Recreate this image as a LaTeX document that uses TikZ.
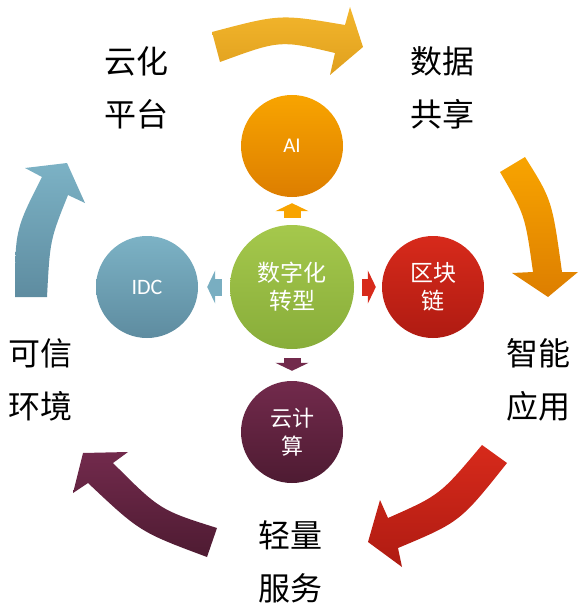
\documentclass[tikz,border=0pt]{standalone}
\usepackage{fontspec}
\setmainfont{Carlito}
\newfontfamily\cjk{Noto Sans CJK SC}
\usetikzlibrary{arrows.meta}

\definecolor{goldhell}{HTML}{F3B62C}
\definecolor{golddunkel}{HTML}{E0A01E}
\definecolor{orhell}{HTML}{F8A400}
\definecolor{ordunkel}{HTML}{DD7E00}
\definecolor{grhell}{HTML}{A5C84C}
\definecolor{grdunkel}{HTML}{88AD3A}
\definecolor{rothell}{HTML}{D72A1B}
\definecolor{rotdunkel}{HTML}{AF1B12}
\definecolor{blauhell}{HTML}{7CB2C5}
\definecolor{blaudunkel}{HTML}{5E8CA0}
\definecolor{weinhell}{HTML}{722A4C}
\definecolor{weindunkel}{HTML}{4E1B32}

\tikzset{
  kreis/.style={circle, draw=none, inner sep=0pt, minimum size=102pt, align=center,
    text=white, font=\cjk\fontsize{22}{28}\selectfont},
  aussen/.style={align=center, font=\cjk\fontsize{32}{53}\selectfont},
  kleinpfeil/.style={line width=17pt, -{Triangle[width=33pt,length=8pt]}}
}

\begin{document}
\begin{tikzpicture}[x=1pt,y=-1pt]
\useasboundingbox (0,0) rectangle (580,604);

%grosse Pfeile
\shade[top color=goldhell, bottom color=golddunkel] (212,32) .. controls (280,14) .. (345,25) -- (350,7) -- (363,47) -- (330,75) -- (335,53) .. controls (280,40) .. (220,62) -- cycle;
\shade[top color=orhell, bottom color=ordunkel] (525,157) .. controls (552,200) .. (562,272) -- (578,272) -- (548,297) -- (512,273) -- (533,272) .. controls (525,215) .. (500,172) -- cycle;
\shade[top color=rothell, bottom color=rotdunkel] (507,463) .. controls (460,522) .. (398,548) -- (402,567) -- (368,542) -- (380,500) -- (388,518) .. controls (440,495) .. (482,445) -- cycle;
\shade[top color=weinhell, bottom color=weindunkel] (207,557) .. controls (140,532) .. (88,483) -- (73,493) -- (83,453) -- (128,452) -- (113,463) .. controls (160,510) .. (217,528) -- cycle;
\shade[top color=blauhell, bottom color=blaudunkel] (15,297) .. controls (15,230) .. (42,177) -- (25,168) -- (67,163) -- (85,203) -- (68,195) .. controls (50,240) .. (47,297) -- cycle;

%Kreise
\node[kreis, minimum size=124pt, top color=grhell, bottom color=grdunkel, font=\cjk\fontsize{23}{28}\selectfont] (dz) at (292,287) {数字化\\转型};
\node[kreis, top color=orhell, bottom color=ordunkel, font=\fontsize{21}{24}\selectfont] (ai) at (292,146) {AI};
\node[kreis, top color=rothell, bottom color=rotdunkel, font=\cjk\fontsize{23}{28}\selectfont] (qk) at (433,287) {区块\\链};
\node[kreis, top color=blauhell, bottom color=blaudunkel, font=\fontsize{22}{24}\selectfont] (idc) at (147,287) {IDC};
\node[kreis, top color=weinhell, bottom color=weindunkel] (yjs) at (292,432) {云计\\算};

%kleine Pfeile
\draw[kleinpfeil, orhell, shorten <=7pt, shorten >=6pt] (dz) -- (ai);
\draw[kleinpfeil, rothell, shorten <=8pt, shorten >=6pt] (dz) -- (qk);
\draw[kleinpfeil, blauhell!90!blaudunkel, shorten <=8pt, shorten >=9pt] (dz) -- (idc);
\draw[kleinpfeil, weinhell, shorten <=9pt, shorten >=10pt] (dz) -- (yjs);

%Beschriftung
\node[aussen] (yun) at (136,88) {云化\\平台};
\node[aussen] (shu) at (442,88) {数据\\共享};
\node[aussen] (zhi) at (538,380) {智能\\应用};
\node[aussen] (qing) at (290,562) {轻量\\服务};
\node[aussen] (ke) at (41,380) {可信\\环境};

\end{tikzpicture}
\end{document}
